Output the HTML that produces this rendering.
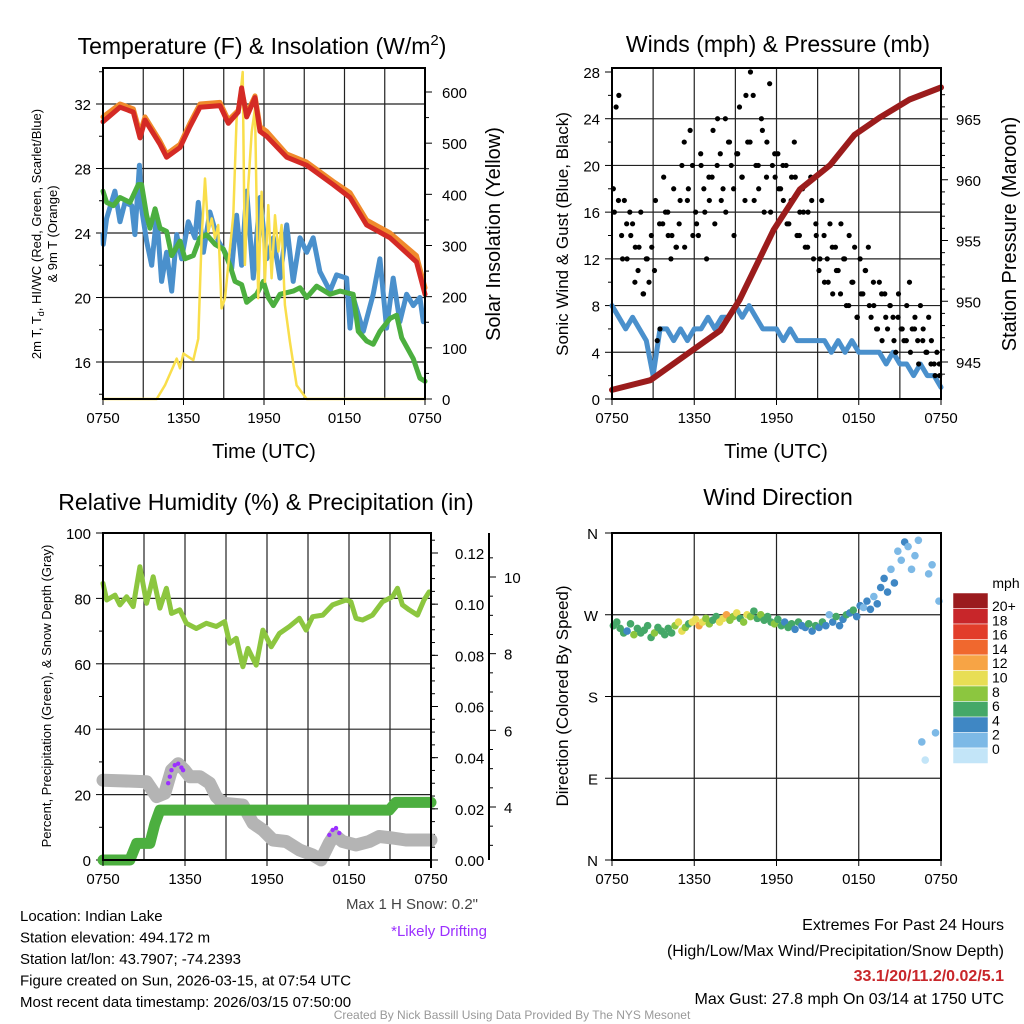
<!DOCTYPE html>
<html><head><meta charset="utf-8"><style>
body{margin:0;background:#fff}
svg{display:block;font-family:"Liberation Sans",sans-serif}
</style></head><body>
<svg id="c" width="1024" height="1024" viewBox="0 0 1024 1024">
<rect width="1024" height="1024" fill="#fff"/>
</svg>
<script>
// ---- data ----
const halfHours = Array.from({length:49},(_,i)=>i*0.5);
const xTickLabels = ["0750","1350","1950","0150","0750"];
const redTimes = [0,1.27,2.26,2.76,3.13,4.25,4.74,5.74,6.48,7.23,8.72,9.34,10.08,10.33,10.71,11.33,11.7,12.2,13.69,15.18,17.16,18.41,19.65,21.39,23.37,24];
const tempRed = [30.9,31.8,31.5,29.9,31.0,29.5,28.7,29.3,30.6,31.8,31.9,30.8,31.5,33.0,31.2,32.4,30.3,30.0,28.7,28.2,27.0,26.2,24.5,23.7,22.2,20.2];
const tempOrange = [31.2,32.0,31.7,30.2,31.2,29.7,28.9,29.5,30.8,32.0,32.1,31.0,31.6,32.8,31.4,32.5,30.6,30.3,28.9,28.4,27.2,26.5,24.8,24.0,22.6,20.6];
const blueTimes = [0,0.02,0.27,0.89,1.27,1.64,2.14,2.38,2.71,2.88,3.25,3.63,4.0,4.37,4.74,5.12,5.49,5.86,6.36,6.86,7.10,7.48,7.97,8.59,9.09,9.59,9.96,10.33,10.71,11.2,11.7,12.2,12.69,13.19,13.69,14.18,14.68,15.18,15.67,16.17,16.92,17.41,18.16,18.41,18.65,19.4,20.14,20.64,21.14,21.63,22.13,22.63,23.13,23.62,23.87];
const chillBlue = [23.9,23.3,24.9,26.6,24.7,25.9,25.7,23.9,28.2,25.5,23.5,22.0,25.1,21.0,22.8,20.4,23.9,22.4,24.7,23.7,25.9,22.8,25.3,23.5,22.8,21.8,25.1,22.0,26.6,21.2,26.2,22.4,23.7,21.2,24.5,21.0,23.7,22.8,23.7,21.6,20.4,21.4,21.2,18.1,20.0,17.9,20.2,22.4,18.1,21.2,18.5,20.2,19.5,20.0,18.5];
const greenTimes = [0,0.27,0.77,1.27,2.01,2.63,2.88,3.25,3.5,3.88,4.25,4.74,5.12,5.74,6.11,6.73,7.23,7.72,8.35,8.97,9.46,9.84,10.33,10.71,11.45,11.95,12.32,12.69,13.19,14.18,14.68,15.18,15.92,16.92,17.66,18.65,19.03,19.65,20.14,20.64,21.39,21.88,22.26,23.13,23.62,24];
const dewGreen = [26.6,25.9,25.7,26.2,25.9,27.0,27.0,25.1,24.3,25.5,24.3,24.1,22.6,23.5,22.4,22.6,23.7,23.9,23.3,23.0,22.0,21.0,20.8,19.7,20.2,21.0,20.0,19.5,20.2,20.4,20.6,20.0,20.7,20.2,20.4,20.2,17.9,17.3,17.1,17.9,18.7,18.9,17.5,16.2,15.0,14.8];
const solarTimes = [0,4.0,4.62,5.49,5.74,5.99,6.73,7.1,7.35,7.6,7.85,8.1,8.35,8.59,8.84,9.09,9.34,9.71,9.96,10.21,10.41,10.58,10.83,11.08,11.33,11.57,11.82,12.07,12.32,12.57,12.82,13.07,13.31,13.56,13.93,14.43,15.18,24];
const solarVals = [0,0,27,79,60,89,76,118,314,431,327,353,314,340,177,197,262,359,548,587,639,262,418,522,568,197,405,229,379,236,359,288,340,184,112,27,0,0];
const windSpeed = [8,7,6,7,6,5,2,6,6,5,6,5,6,6,7,6,7,7,8,7,8,7,6,6,6,5,6,5,5,5,5,5,4,5,4,5,4,4,4,4,3,4,3,3,2,3,2,2,1];
const pressTimes = [0,2.8,5.9,7.9,9.3,11.8,13.7,15.9,17.7,19.5,21.7,24];
const pressVals = [942.7,943.5,946.0,947.6,950.1,955.9,959.2,961.2,963.7,965.1,966.6,967.6];
const gusts = [18,25,26,14,17,12,16,15,13,11,16,9,12,10,13,11,5,6,15,16,14,12,18,13,15,20,13,17,23,14,16,14,20,18,12,17,19,15,24,21,18,16,22,20,14,21,25,19,17,22,28,26,20,18,24,16,22,27,20,19,21,18,17,20,15,19,22,14,16,18,13,16,19,12,14,11,17,10,12,15,9,13,11,15,12,8,14,10,13,7,12,9,11,13,7,8,6,10,5,9,6,8,7,4,9,6,5,8,10,6,7,5,8,6,4,7,5,3,4,2];
const gusts2 = [16,17,12,15,14,10,13,9,12,14,17,15,19,16,14,13,17,22,18,20,15,21,16,19,23,20,17,24,22,18,21,19,26,22,17,20,23,19,16,21,18,20,15,17,19,14,16,13,17,15,12,14,10,13,11,9,12,8,10,7,9,11,8,10,6,9,7,8,5,7,6,5,4,6,3,5,4,3,2,3];
const rhTimes = [0,0.27,0.88,1.24,1.73,2.21,2.7,3.19,3.67,4.16,4.64,5.01,5.62,6.1,6.83,7.56,8.29,8.9,9.27,9.75,10.24,10.6,11.21,11.7,12.31,12.91,13.64,14.37,14.86,15.34,16.08,16.8,17.78,18.14,18.51,18.99,19.72,20.45,21.18,21.55,21.91,22.4,23.01,23.49,23.86];
const rh = [84.6,79.5,81.0,78.0,80.5,77.5,89.7,78.5,86.6,77.0,83.1,75.4,76.5,72.4,70.8,72.4,71.4,72.9,66.3,67.8,59.1,64.7,59.6,70.3,65.2,69.3,71.4,73.9,70.3,74.4,74.9,78.0,79.5,79.0,73.9,73.4,74.9,79.0,80.5,83.1,78.0,76.5,74.9,79.5,82.0];
const precipTimes = [0,1.97,2.46,3.43,3.79,4.16,20.94,21.43,24];
const precipVals = [0,0,0.0065,0.0065,0.014,0.0195,0.0195,0.0225,0.0225];
const snowTimes = [0,3.19,3.92,4.52,5.01,5.5,5.98,6.35,7.08,7.81,8.29,8.78,10.24,10.97,11.7,12.43,13.4,14.37,15.34,15.95,16.56,16.93,17.53,18.51,19.48,20.21,21.18,22.16,24];
const snowVals = [4.70,4.66,4.27,4.36,4.96,5.13,4.96,4.79,4.79,4.62,4.27,4.10,4.05,3.58,3.40,3.14,3.10,2.88,2.75,2.62,3.06,3.27,3.10,3.01,3.10,3.23,3.19,3.14,3.14];
const driftTimes = [4.77,4.89,5.01,5.25,5.5,5.74,5.86,16.56,16.8,17.05,17.29];
const driftVals = [4.62,4.79,4.96,5.09,5.13,5.03,4.96,3.27,3.40,3.45,3.32];
const dirVals = [258,262,255,250,252,260,248,255,250,253,258,245,250,256,252,248,255,250,258,262,252,256,260,262,265,258,262,266,260,264,268,262,266,270,264,268,272,266,262,270,268,274,266,270,264,268,262,260,265,258,262,256,260,254,262,258,256,260,252,258,256,262,258,270,262,268,258,265,270,272,275,268,280,278,285,276,290,282,300,310,295,320,305,340,330,350,345,320,335,352,130,110,315,325,140,285];
const dirSpeeds = [6,5,6,5,4,6,7,6,5,6,5,6,7,6,5,6,5,6,7,10,9,8,6,10,9,11,10,7,8,6,5,9,10,11,8,7,9,6,8,10,7,6,5,7,6,5,6,7,6,5,4,5,6,4,5,4,3,5,4,6,4,5,3,2,4,5,3,4,5,4,6,3,4,2,3,4,2,3,4,3,3,2,3,2,1,3,2,1,2,1,1,0,2,1,1,2];
const cbLabels = ["20+","18","16","14","12","10","8","6","4","2","0"];
const cbColors = ["#9b1b1e","#c8262a","#e23d2a","#f0682e","#f7a445","#e8de55","#8cc63f","#45a868","#3f87c4","#7db9e6","#c3e5f8"];

// ---- helpers ----
const S = document.getElementById('c');
const NS = 'http://www.w3.org/2000/svg';
function mk(tag, attrs, parent){const e=document.createElementNS(NS,tag);for(const k in attrs)e.setAttribute(k,attrs[k]);(parent||S).appendChild(e);return e;}
function txt(x,y,s,size,anchor,extra){const e=mk('text',Object.assign({x:x,y:y,'font-size':size,'text-anchor':anchor||'middle',fill:'#000'},extra||{}));e.textContent=s;return e;}
function lin(x1,y1,x2,y2,col,w){return mk('line',{x1:x1,y1:y1,x2:x2,y2:y2,stroke:col||'#000','stroke-width':w||1});}
function poly(xs,ys,col,w){return mk('polyline',{points:xs.map((x,i)=>x.toFixed(1)+','+ys[i].toFixed(1)).join(' '),fill:'none',stroke:col,'stroke-width':w,'stroke-linejoin':'round','stroke-linecap':'round'});}
function scale(d0,d1,r0,r1){return v=>r0+(v-d0)/(d1-d0)*(r1-r0);}
function frame(x0,y0,x1,y1){mk('rect',{x:x0,y:y0,width:x1-x0,height:y1-y0,fill:'none',stroke:'#000','stroke-width':2});}
function vgrid(x0,x1,y0,y1){for(let i=1;i<8;i++){const x=x0+i*(x1-x0)/8;lin(x,y0,x,y1,'#222',1.2);}}
function xAxis(x0,x1,y1,name){
  xTickLabels.forEach((l,i)=>{const x=x0+i*(x1-x0)/4;lin(x,y1,x,y1+6);const t=txt(x,y1+24,l,15);});
}

// ===== Panel 1 =====
(function(){
  const x0=103,x1=425,y0=68,y1=399;
  const X=scale(0,24,x0,x1), Y=scale(16,32,362,104), Ys=scale(0,600,399,92);
  [16,20,24,28,32].forEach(v=>{lin(x0,Y(v),x1,Y(v),'#222',1.2);lin(x0-7,Y(v),x0,Y(v));const t=txt(x0-12,Y(v)+6,String(v),15,'end');});
  [14,18,22,26,30,34].forEach(v=>{if(Y(v)>y0&&Y(v)<y1)lin(x0-4,Y(v),x0,Y(v));});
  vgrid(x0,x1,y0,y1);
  [0,100,200,300,400,500,600].forEach(v=>{lin(x1,Ys(v),x1+7,Ys(v));const t=txt(x1+17,Ys(v)+6,String(v),15,'start');});
  [50,150,250,350,450,550].forEach(v=>lin(x1,Ys(v),x1+4,Ys(v)));
  const bl=poly(blueTimes.map(X),chillBlue.map(Y),'#4a90cc',5);
  const gr=poly(greenTimes.map(X),dewGreen.map(Y),'#4caf3f',5);
  const sol=poly(solarTimes.map(X),solarVals.map(Ys),'#f9de4b',2.5);
  const or=poly(redTimes.map(X),tempOrange.map(Y),'#f08a2c',5);
  const rd=poly(redTimes.map(X),tempRed.map(Y),'#d42a25',5);
  frame(x0,y0,x1,y1);
  xAxis(x0,x1,y1,'temp');
  const tt=txt(262,54,'Temperature (F) & Insolation (W/m',23);
  const ts=mk('tspan',{'font-size':15,dy:-9},tt);ts.textContent='2';const tc=mk('tspan',{dy:9},tt);tc.textContent=')';
  const xl=txt(264,458,'Time (UTC)',20);
  const yl=mk('text',{transform:'translate(41,234) rotate(-90)','font-size':13,'text-anchor':'middle'});
  
  yl.innerHTML='<tspan x="0" y="0">2m T, T<tspan font-size="9" dy="3">d</tspan><tspan dy="-3">, HI/WC (Red, Green, Scarlet/Blue)</tspan></tspan><tspan x="0" y="16">&amp; 9m T (Orange)</tspan>';
  const yr=mk('text',{transform:'translate(500,234) rotate(-90)','font-size':20,'text-anchor':'middle'});yr.textContent='Solar Insolation (Yellow)';
  
})();

// ===== Panel 2 =====
(function(){
  const x0=612,x1=941,y0=68,y1=399;
  const X=scale(0,24,x0,x1), Y=scale(0,28,399,72), Yp=scale(945,965,362,119);
  for(let v=0;v<=28;v+=4){if(v>0&&v<28)lin(x0,Y(v),x1,Y(v),'#222',1.2);lin(x0-7,Y(v),x0,Y(v));const t=txt(x0-12,Y(v)+6,String(v),15,'end');}
  for(let v=2;v<28;v+=4)lin(x0-4,Y(v),x0,Y(v));
  vgrid(x0,x1,y0,y1);
  [945,950,955,960,965].forEach(v=>{lin(x1,Yp(v),x1+7,Yp(v));const t=txt(x1+15,Yp(v)+6,String(v),15,'start');});
  for(let v=944;v<=967;v++)if(v%5)lin(x1,Yp(v),x1+4,Yp(v));
  const ws=poly(halfHours.map(X),windSpeed.map(Y),'#4a90cc',5);
  gusts.forEach((v,i)=>{const c=mk('circle',{cx:X(i*24/gusts.length+0.1),cy:Y(v),r:2.6,fill:'#000'});
    
    });
  gusts2.forEach((v,i)=>{const c=mk('circle',{cx:X(i*24/gusts2.length+0.17),cy:Y(v),r:2.6,fill:'#000'});
    
    });
  const pr=poly(pressTimes.map(X),pressVals.map(Yp),'#9b1c1c',6);
  frame(x0,y0,x1,y1);
  xAxis(x0,x1,y1,'wind');
  const tt=txt(778,52,'Winds (mph) & Pressure (mb)',23);
  const xl=txt(776,458,'Time (UTC)',20);
  const yl=mk('text',{transform:'translate(568,234) rotate(-90)','font-size':17,'text-anchor':'middle'});yl.textContent='Sonic Wind & Gust (Blue, Black)';
  
  const yr=mk('text',{transform:'translate(1016,234) rotate(-90)','font-size':20,'text-anchor':'middle'});yr.textContent='Station Pressure (Maroon)';
  
})();

// ===== Panel 3 =====
(function(){
  const x0=103,x1=431,y0=533,y1=860;
  const X=scale(0,24,x0,x1), Y=scale(0,100,860,533), Yp=scale(0,0.12,860,553), Ysn=scale(4,10,807,577);
  for(let v=0;v<=100;v+=20){if(v>0&&v<100)lin(x0,Y(v),x1,Y(v),'#222',1.2);lin(x0-7,Y(v),x0,Y(v));const t=txt(x0-12,Y(v)+6,String(v),15,'end');}
  for(let v=10;v<100;v+=20)lin(x0-4,Y(v),x0,Y(v));
  vgrid(x0,x1,y0,y1);
  for(let v=0;v<=0.12001;v+=0.02){lin(x1,Yp(v),x1+7,Yp(v));const t=txt(x1+24,Yp(v)+6,v.toFixed(2),15,'start');}
  for(let v=0.005;v<0.13;v+=0.005)lin(x1,Yp(v),x1+4,Yp(v));
  lin(489,533,489,860,'#000',2);
  [4,6,8,10].forEach(v=>{lin(489,Ysn(v),496,Ysn(v));const t=txt(504,Ysn(v)+6,String(v),15,'start');});
  for(let v=2.5;v<=10.5;v+=0.5)if(v%2&&Ysn(v)>533&&Ysn(v)<860)lin(489,Ysn(v),493,Ysn(v));
  const sn=poly(snowTimes.map(X),snowVals.map(Ysn),'#b4b4b4',13);
  const pc=poly(precipTimes.map(X),precipVals.map(Yp),'#4caf3f',11);
  driftTimes.forEach((t,i)=>{const c=mk('circle',{cx:X(t),cy:Ysn(driftVals[i]),r:2.2,fill:'#9b30ff'});
    
    });
  const rl=poly(rhTimes.map(X),rh.map(Y),'#8cc63f',5);
  frame(x0,y0,x1,y1);
  lin(x1,y1,x1,y1+8,'#000',2);
  xAxis(x0,x1,y1,'rh');
  const tt=txt(266,510,'Relative Humidity (%) & Precipitation (in)',23);
  const yl=mk('text',{transform:'translate(51,696) rotate(-90)','font-size':13,'text-anchor':'middle'});yl.textContent='Percent, Precipitation (Green), & Snow Depth (Gray)';
  
  const ms=txt(478,909,'Max 1 H Snow: 0.2"',15,'end',{fill:'#444'});
  const ld=txt(487,936,'*Likely Drifting',15,'end',{fill:'#9b30ff'});
})();

// ===== Panel 4 =====
(function(){
  const x0=612,x1=941,y0=533,y1=860;
  const X=scale(0,24,x0,x1), Y=scale(0,360,860,533);
  const labs=['N','E','S','W','N'];
  [0,90,180,270,360].forEach((v,i)=>{if(v>0&&v<360)lin(x0,Y(v),x1,Y(v),'#222',1.2);lin(x0-7,Y(v),x0,Y(v));const t=txt(x0-14,Y(v)+6,labs[i],15,'end');});
  for(let i=1;i<4;i++){const x=x0+i*(x1-x0)/4;lin(x,y0,x,y1,'#222',1.2);}
  function col(s){const i=Math.max(0,Math.min(10,10-Math.round(s/2)));return cbColors[i];}
  dirVals.forEach((d,i)=>{const c=mk('circle',{cx:X(i*24/dirVals.length+0.1),cy:Y(d),r:3.8,fill:col(dirSpeeds[i])});
    
    });
  frame(x0,y0,x1,y1);
  xAxis(x0,x1,y1,'dir');
  const tt=txt(778,505,'Wind Direction',23);
  const yl=mk('text',{transform:'translate(568,696) rotate(-90)','font-size':17,'text-anchor':'middle'});yl.textContent='Direction (Colored By Speed)';
  
  const cb=mk('g',{});
  cbColors.forEach((c,i)=>{mk('rect',{x:953,y:593+i*15.5,width:35,height:15.5,fill:c,stroke:'#fff','stroke-width':0.5},cb);const t=txt(992,611+i*14.3,cbLabels[i],14,'start');});
  const u=txt(1006,588,'mph',14);
})();

// ===== Footer text =====
const info=["Location: Indian Lake","Station elevation: 494.172 m","Station lat/lon: 43.7907; -74.2393","Figure created on Sun, 2026-03-15, at 07:54 UTC","Most recent data timestamp: 2026/03/15 07:50:00"];
info.forEach((s,i)=>{const t=txt(20,921+i*21.5,s,15,'start');});
[["Extremes For Past 24 Hours",930,'#000',''],["(High/Low/Max Wind/Precipitation/Snow Depth)",956,'#000',''],["33.1/20/11.2/0.02/5.1",981,'#c8262a','bold'],["Max Gust: 27.8 mph On 03/14 at 1750 UTC",1004,'#000','']].forEach(r=>{const t=txt(1004,r[1],r[0],16,'end',{fill:r[2],'font-weight':r[3]||'normal'});});
const cr=txt(512,1019,'Created By Nick Bassill Using Data Provided By The NYS Mesonet',12,'middle',{fill:'#999'});


</script>
</body></html>
